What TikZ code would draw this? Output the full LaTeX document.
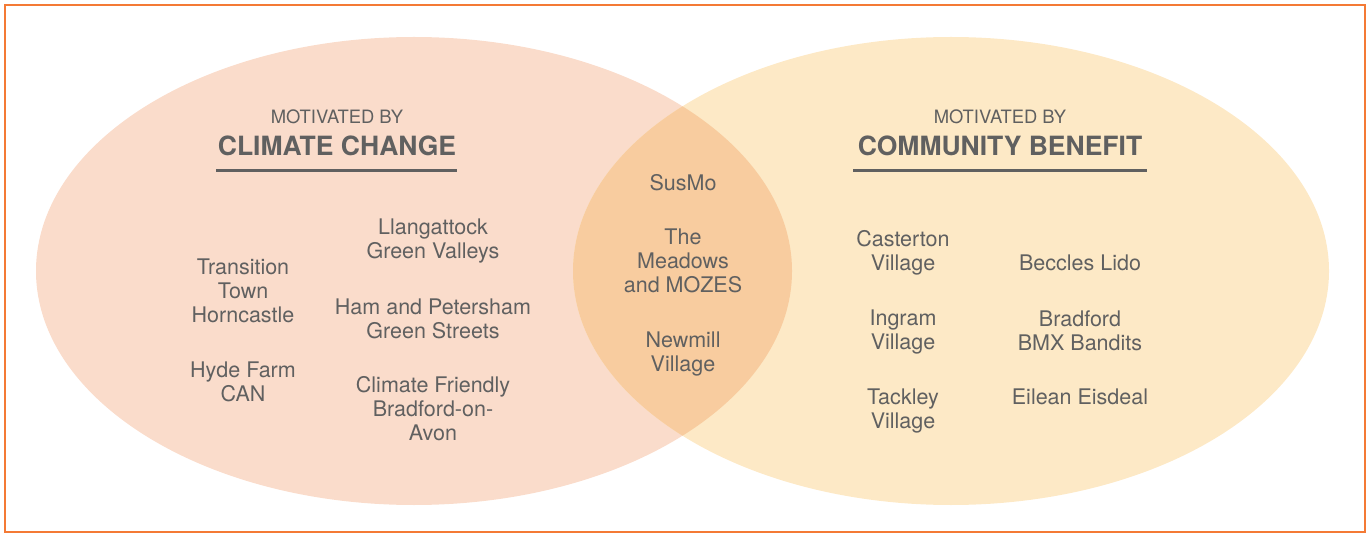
\documentclass[tikz,border=0pt]{standalone}
\usepackage{fontspec}
\setmainfont{TeX Gyre Heros}
\definecolor{frameorange}{HTML}{F47A35}
\definecolor{climfill}{HTML}{FADCCB}
\definecolor{commfill}{HTML}{FDE9C6}
\definecolor{bothfill}{HTML}{F8CC9F}
\definecolor{txtgray}{HTML}{606060}
\tikzset{
  item/.style={align=center, text=txtgray, font=\fontsize{21.5}{24}\selectfont, inner sep=0pt},
  small/.style={text=txtgray, font=\fontsize{18.4}{20}\selectfont, inner sep=0pt},
  big/.style={text=txtgray, font=\fontsize{26.5}{30}\selectfont\bfseries, inner sep=0pt},
  rule/.style={draw=txtgray, line width=3pt}
}
\begin{document}
\begin{tikzpicture}[x=1pt,y=-1pt]
\useasboundingbox (0,0) rectangle (1370,534);
\draw[frameorange, line width=2pt] (5,5) rectangle (1365,532);
% ellipses
\fill[climfill] (414,271) ellipse [x radius=378, y radius=234];
\fill[commfill] (951,271) ellipse [x radius=378, y radius=234];
\begin{scope}
  \clip (414,271) ellipse [x radius=378, y radius=234];
  \fill[bothfill] (951,271) ellipse [x radius=378, y radius=234];
\end{scope}
% left titles
\node[small] (lmot) at (337,117) {MOTIVATED BY};
\node[big] (lbig) at (337,146) {CLIMATE CHANGE};
\coordinate (lr1) at (216,171);
\coordinate (lr2) at (457,171);
\draw[rule] (lr1) -- (lr2);
% right titles
\node[small] (rmot) at (1000,117) {MOTIVATED BY};
\node[big] (rbig) at (1000,146) {COMMUNITY BENEFIT};
\coordinate (rr1) at (853,171);
\coordinate (rr2) at (1147,171);
\draw[rule] (rr1) -- (rr2);
% left items
\node[item] (trans) at (243,291) {Transition\\Town\\Horncastle};
\node[item] (hyde) at (243,382) {Hyde Farm\\CAN};
\node[item] (llan) at (433,241) {Llangattock\\Green Valleys};
\node[item] (ham) at (433,319) {Ham and Petersham\\Green Streets};
\node[item] (cfba) at (433,409) {Climate Friendly\\Bradford-on-\\Avon};
% middle items
\node[item] (susmo) at (683,183) {SusMo};
\node[item] (mead) at (683,261) {The\\Meadows\\and MOZES};
\node[item] (newm) at (683,354) {Newmill\\Village};
% right items
\node[item] (cast) at (903,253) {Casterton\\Village};
\node[item] (ingr) at (903,332) {Ingram\\Village};
\node[item] (tack) at (903,411) {Tackley\\Village};
\node[item] (becc) at (1080,263) {Beccles Lido};
\node[item] (bmx) at (1080,331) {Bradford\\BMX Bandits};
\node[item] (eil) at (1080,397) {Eilean Eisdeal};
\end{tikzpicture}
\end{document}
